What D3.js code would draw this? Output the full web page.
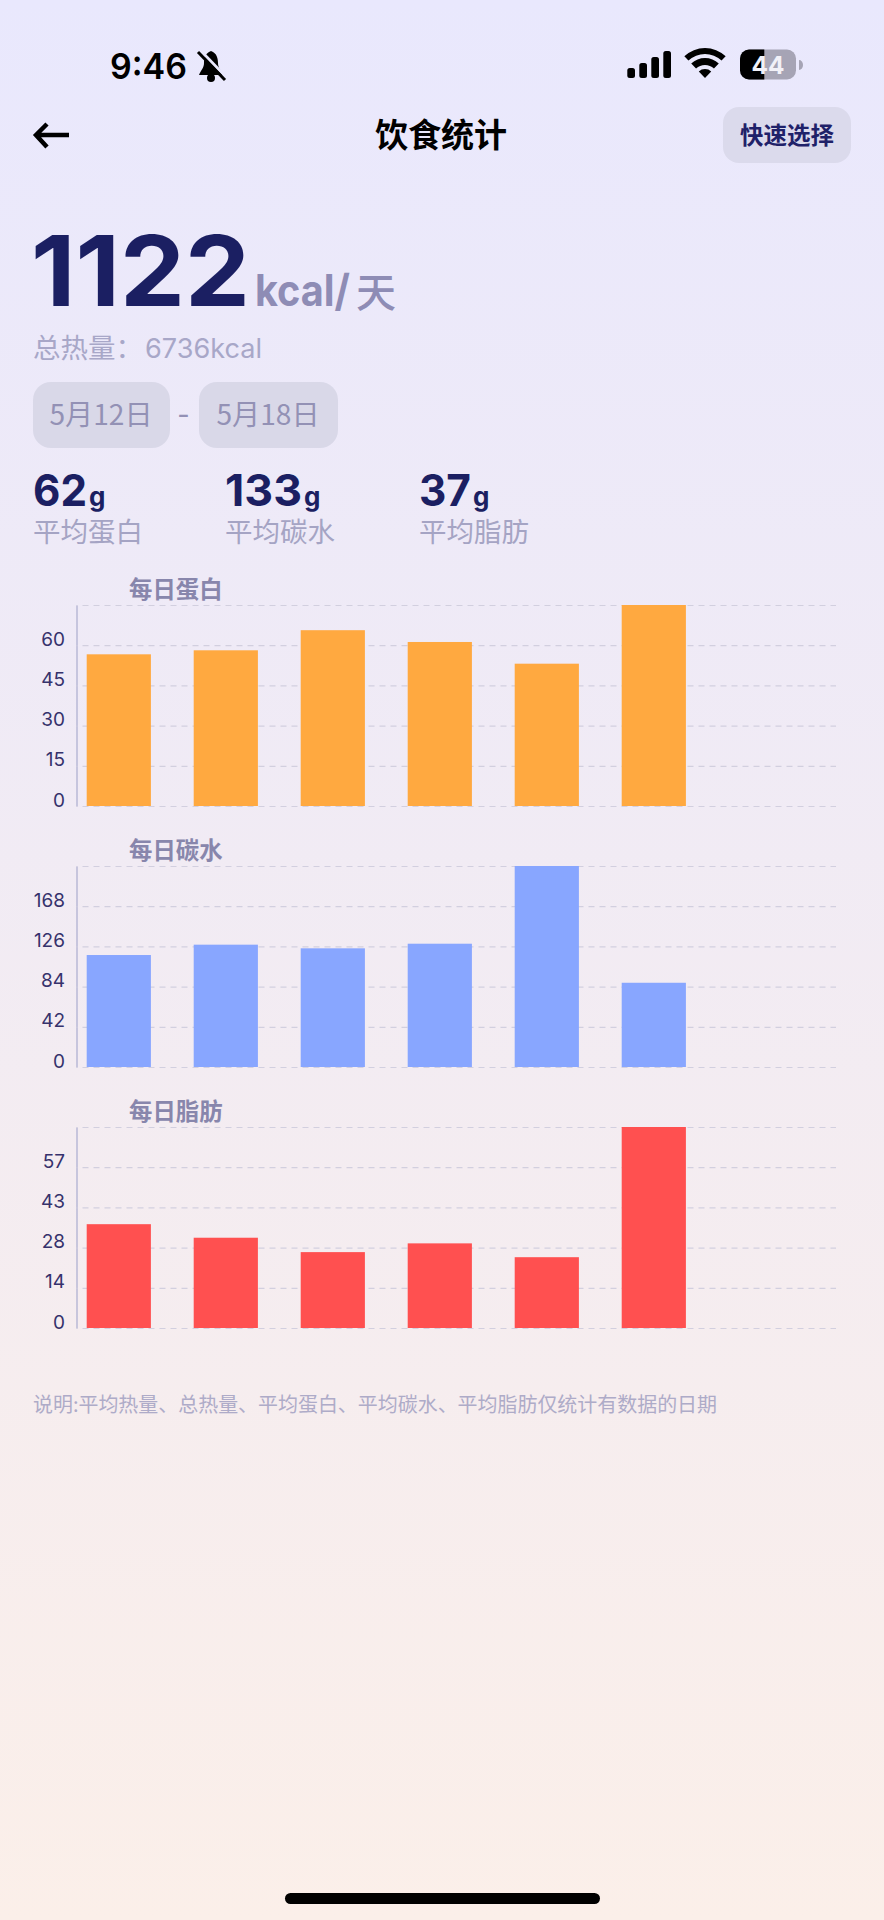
<!DOCTYPE html>
<html lang="zh-CN">
<head>
<meta charset="utf-8">
<script src="https://cdn.jsdelivr.net/npm/d3@7"></script>
<style>
  body { margin: 0; background: #f4ecf3; }
  svg { display: block; }
  text { font-family: Inter, "Noto Sans CJK SC", sans-serif; }
  .cjk { font-family: "Noto Sans CJK SC", sans-serif; }
</style>
</head>
<body>
<div id="chart"></div>
<script>
// data
var days = ["5月12日", "5月13日", "5月14日", "5月15日", "5月16日", "5月17日", "5月18日"];

var proteinValues = [56.6, 58.1, 65.6, 61.2, 53.1, 75];
var proteinTicks = [0, 15, 30, 45, 60, 75];
var proteinLabels = ["0", "15", "30", "45", "60", ""];

var carbValues = [117, 127.8, 124, 128.8, 210, 88];
var carbTicks = [0, 42, 84, 126, 168, 210];
var carbLabels = ["0", "42", "84", "126", "168", ""];

var fatValues = [36.8, 32, 26.9, 30, 25.1, 71.25];
var fatTicks = [0, 14.25, 28.5, 42.75, 57, 71.25];
var fatLabels = ["0", "14", "28", "43", "57", ""];

var statValues = ["62", "133", "37"];
var statNames = ["平均蛋白", "平均碳水", "平均脂肪"];

var svgWidth = 884;
var svgHeight = 1920;

var navy = "#1b1f62";
var axisX = 76.5;
var gridRight = 836;
var plotHeight = 201;

var svg = d3.select("#chart")
  .append("svg")
  .attr("width", svgWidth)
  .attr("height", svgHeight);

var grad = svg.append("defs").append("linearGradient")
  .attr("id", "bg")
  .attr("x1", 0).attr("y1", 0).attr("x2", 0).attr("y2", 1);
grad.append("stop").attr("offset", "0%").attr("stop-color", "#e9e8fd");
grad.append("stop").attr("offset", "100%").attr("stop-color", "#fbefe9");

svg.append("rect")
  .attr("width", svgWidth)
  .attr("height", svgHeight)
  .attr("fill", "url(#bg)");

function addText(x, y, str, size, fill, weight, anchor, len) {
  var t = svg.append("text")
    .attr("x", x)
    .attr("y", y)
    .attr("font-size", size)
    .attr("font-weight", weight || 400)
    .attr("fill", fill)
    .attr("text-anchor", anchor || "start")
    .text(str);
  if (len) {
    t.attr("textLength", len).attr("lengthAdjust", "spacingAndGlyphs");
  }
  return t;
}

// status bar
addText(110, 78.5, "9:46", 36, "#000", 600, "start", 77);

var bell = svg.append("g").attr("transform", "translate(197,50)");
bell.append("path")
  .attr("d", "M14 1C8 3 7 9 7 13C7 18 4 20 2 25L26 25C24 20 21 18 21 13C21 9 20 3 14 1Z")
  .attr("fill", "#000");
bell.append("circle").attr("cx", 14).attr("cy", 28).attr("r", 4).attr("fill", "#000");
bell.append("line").attr("x1", 3).attr("y1", 0).attr("x2", 30).attr("y2", 28)
  .attr("stroke", "#e9e8fd").attr("stroke-width", 3);
bell.append("line").attr("x1", 1).attr("y1", 2).attr("x2", 28).attr("y2", 30)
  .attr("stroke", "#000").attr("stroke-width", 3);

var signal = [10, 15, 21, 27];
signal.forEach(function(h, i) {
  svg.append("rect")
    .attr("x", 627.3 + i * 12)
    .attr("y", 78 - h)
    .attr("width", 7.7)
    .attr("height", h)
    .attr("rx", 2.5)
    .attr("fill", "#000");
});

var arc = d3.arc().startAngle(-0.76).endAngle(0.76);
[[0, 9], [13, 20], [24, 30]].forEach(function(r) {
  svg.append("path")
    .attr("transform", "translate(705,78)")
    .attr("d", arc({ innerRadius: r[0], outerRadius: r[1] }))
    .attr("fill", "#000");
});

svg.append("rect")
  .attr("x", 740).attr("y", 49.5).attr("width", 56).attr("height", 30).attr("rx", 9)
  .attr("fill", "#a6a4b5");
svg.append("path")
  .attr("d", "M764.3 49.5H749a9 9 0 0 0 -9 9V70.5a9 9 0 0 0 9 9H764.3Z")
  .attr("fill", "#000");
svg.append("path")
  .attr("d", "M799 60a4 5 0 0 1 0 10Z")
  .attr("fill", "#a6a4b5");
addText(768, 73.5, "44", 24, "#f2f1f8", 700, "middle", 33);

// nav bar
svg.append("path")
  .attr("d", "M69 135H37M47 124L36 135L47 147")
  .attr("fill", "none")
  .attr("stroke", "#000")
  .attr("stroke-width", 4.5);
addText(441, 147, "饮食统计", 33, "#000", 700, "middle").attr("class", "cjk");

svg.append("rect")
  .attr("x", 723).attr("y", 107).attr("width", 128).attr("height", 56).attr("rx", 16)
  .attr("fill", "#dbdaec");
addText(787, 143.5, "快速选择", 23.5, "#1f2169", 700, "middle").attr("class", "cjk");

// headline
addText(31, 306, "1122", 98, navy, 700, "start", 219);
addText(255, 306, "kcal/", 44, "#8e8cb5", 700, "start", 95);
addText(356, 307, "天", 40, "#8e8cb5", 500).attr("class", "cjk");
addText(33, 358, "总热量：", 27.5, "#a8a7c8", 400).attr("class", "cjk");
addText(145, 358, "6736kcal", 27, "#a8a7c8", 400, "start", 117);

// date range
[[33, 137, "5月12日"], [199, 139, "5月18日"]].forEach(function(p) {
  svg.append("rect")
    .attr("x", p[0]).attr("y", 382).attr("width", p[1]).attr("height", 66).attr("rx", 18)
    .attr("fill", "#d9d8e8");
  addText(p[0] + p[1] / 2 - 0.5, 425, p[2], 28, "#9391b5", 400, "middle", 103).attr("class", "cjk");
});
addText(183.5, 424, "-", 27, "#9391b5", 400, "middle");

// averages
var statX = [33, 225, 419];
var statLen = [54, 77, 52];
statValues.forEach(function(v, i) {
  addText(statX[i], 506, v, 44, navy, 700, "start", statLen[i]);
  addText(statX[i] + statLen[i] + 2, 506, "g", 26, navy, 700);
  addText(statX[i], 542, statNames[i], 27.5, "#a5a4c4", 400).attr("class", "cjk");
});

function drawBars(title, values, ticks, labels, color, top) {
  var g = svg.append("g")
    .attr("transform", `translate(${axisX}, ${top})`);

  var xBand = d3.scaleBand()
    .domain(days)
    .range([10.2, 10.2 + 107 * 6.6])
    .paddingInner(0.4)
    .paddingOuter(0);

  var yLinear = d3.scaleLinear()
    .domain([0, d3.max(ticks)])
    .range([plotHeight, 0]);

  var leftAxis = d3.axisLeft(yLinear)
    .tickValues(ticks)
    .tickSize(-(gridRight - axisX))
    .tickSizeOuter(0)
    .tickPadding(12)
    .tickFormat(function(d, i) { return labels[i]; });

  var axisGroup = g.append("g").call(leftAxis);

  axisGroup.select(".domain")
    .attr("stroke", "#b9b8d6")
    .attr("stroke-width", 1.5);

  axisGroup.selectAll(".tick line")
    .attr("stroke", "#d2cfdf")
    .attr("stroke-width", 1.2)
    .attr("stroke-dasharray", "6 5")
    .attr("stroke-dashoffset", 5);

  axisGroup.selectAll(".tick text")
    .attr("x", -11.5)
    .attr("y", -6)
    .attr("font-family", "Inter, sans-serif")
    .attr("font-size", 19)
    .attr("fill", "#36326c");

  g.selectAll(".bar")
    .data(values)
    .enter()
    .append("rect")
    .attr("class", "bar")
    .attr("x", function(d, i) { return xBand(days[i]); })
    .attr("y", function(d) { return yLinear(d); })
    .attr("width", xBand.bandwidth())
    .attr("height", function(d) { return plotHeight - yLinear(d); })
    .attr("fill", color);

  addText(129, top - 7, title, 23.4, "#8886ac", 700).attr("class", "cjk");
}

drawBars("每日蛋白", proteinValues, proteinTicks, proteinLabels, "#ffa940", 605);
drawBars("每日碳水", carbValues, carbTicks, carbLabels, "#88a6ff", 866);
drawBars("每日脂肪", fatValues, fatTicks, fatLabels, "#ff5050", 1127);

addText(33, 1412, "说明:平均热量、总热量、平均蛋白、平均碳水、平均脂肪仅统计有数据的日期", 20, "#aeabc8", 400, "start", 684)
  .attr("class", "cjk");

// home indicator
svg.append("rect")
  .attr("x", 285).attr("y", 1893).attr("width", 315).attr("height", 11).attr("rx", 5.5)
  .attr("fill", "#000");
</script>
</body>
</html>
